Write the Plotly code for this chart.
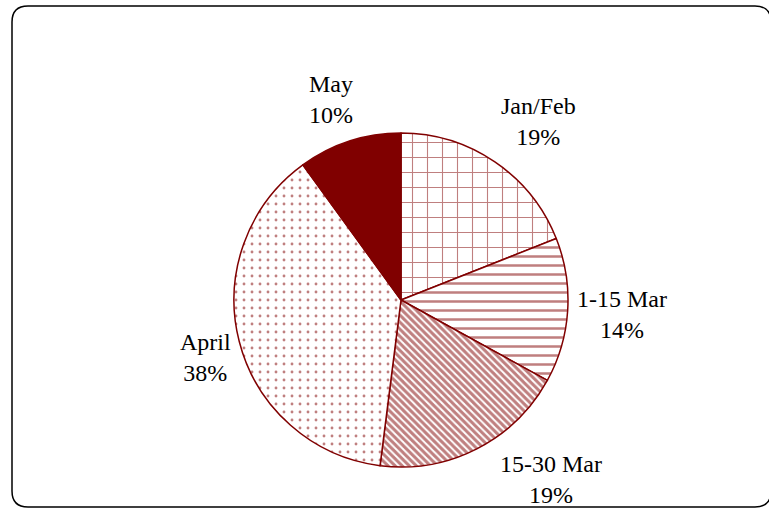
import math
import plotly.graph_objects as go

labels = ["Jan/Feb", "1-15 Mar", "15-30 Mar", "April", "May"]
values = [19, 14, 19, 38, 10]

fill_colors = ["white", "white", "white", "white", "#800000"]
pattern_shapes = ["+", "-", "\\", ".", ""]
pattern_sizes = [15, 9, 5, 8, 8]
pattern_solidity = [0.14, 0.28, 0.6, 0.1, 0.3]

W, H = 769, 508
L, T, S = 234, 133, 334  # plot area left, top, size (px)
FS = 24

# Times-like glyph advance widths (per 1000 em) for measuring label text
ADV = {"J": 389, "a": 444, "n": 500, "/": 278, "F": 556, "e": 444, "b": 500,
       "1": 500, "-": 333, "5": 500, " ": 250, "M": 889, "r": 333, "3": 500,
       "0": 500, "A": 722, "p": 500, "i": 278, "l": 278, "y": 500, "%": 833,
       "9": 500, "4": 500, "8": 500}


def text_w(s):
    return sum(ADV.get(c, 500) for c in s) * FS / 1000


fig = go.Figure(go.Pie(
    labels=labels,
    values=values,
    sort=False,
    direction="clockwise",
    rotation=0,
    textinfo="none",
    marker=dict(
        colors=fill_colors,
        line=dict(color="#800000", width=1.5),
        pattern=dict(
            shape=pattern_shapes,
            fgcolor="#800000",
            size=pattern_sizes,
            solidity=pattern_solidity,
            fillmode="overlay",
        ),
    ),
    showlegend=False,
    hoverinfo="label+percent",
))


def px(x):
    return (x - L) / S


def py(y):
    return (T + S - y) / S


def clamp(v):
    return max(-1.0, min(1.0, v))


# outside labels: anchored just beyond the rim at each slice's mid angle,
# with the text box pushed outward; slid along the rim if it would run
# past the bottom of the chart
total = sum(values)
cx, cy, R = L + S / 2, T + S / 2, S / 2
rim = R + 7
half_h = 35
y_max = H + 7
annotations = []
cum = 0
for lab, v in zip(labels, values):
    pct = round(100 * v / total)
    theta = (cum + v / 2) / total * 360
    cum += v
    half_w = max(text_w(lab), text_w(f"{pct}%")) / 2 + 2

    def place(t):
        a = math.radians(t)
        ux, uy = math.sin(a), -math.cos(a)
        return (cx + rim * ux + clamp(2.2 * ux) * half_w,
                cy + rim * uy + clamp(1.6 * uy) * half_h)

    ax, ay = place(theta)
    while ay + half_h > y_max and 90 < theta < 270:
        theta += -0.5 if theta < 180 else 0.5
        ax, ay = place(theta)
    annotations.append(dict(
        x=px(ax), y=py(ay), xref="paper", yref="paper",
        text=f"{lab}<br>{pct}%", showarrow=False,
        xanchor="center", yanchor="middle", align="center",
        font=dict(family="Liberation Serif", size=FS, color="black"),
    ))

# rounded border around the chart
x0, y0, x1, y1, r = 12, 6, 771, 507, 16
path = (
    f"M {px(x0 + r)},{py(y0)} L {px(x1 - r)},{py(y0)} "
    f"Q {px(x1)},{py(y0)} {px(x1)},{py(y0 + r)} "
    f"L {px(x1)},{py(y1 - r)} Q {px(x1)},{py(y1)} {px(x1 - r)},{py(y1)} "
    f"L {px(x0 + r)},{py(y1)} Q {px(x0)},{py(y1)} {px(x0)},{py(y1 - r)} "
    f"L {px(x0)},{py(y0 + r)} Q {px(x0)},{py(y0)} {px(x0 + r)},{py(y0)} Z"
)

fig.update_layout(
    width=W,
    height=H,
    margin=dict(l=L, r=W - L - S, t=T, b=H - T - S),
    paper_bgcolor="white",
    plot_bgcolor="white",
    font=dict(family="Liberation Serif", size=FS, color="black"),
    annotations=annotations,
    shapes=[dict(type="path", xref="paper", yref="paper", path=path,
                 line=dict(color="black", width=1.5), layer="below")],
)

fig.write_html(
    "out.html",
    config={"displayModeBar": False},
    post_script="document.body.style.margin='0';document.body.style.overflow='hidden';",
)
